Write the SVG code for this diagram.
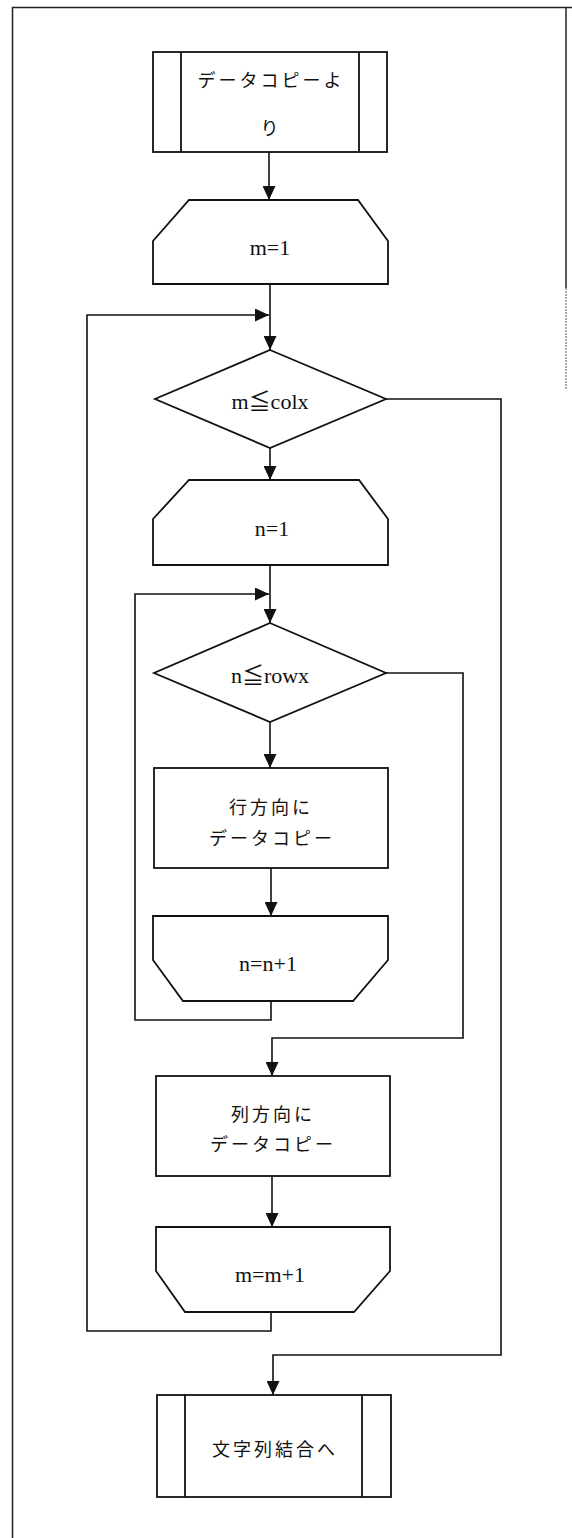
<svg xmlns="http://www.w3.org/2000/svg" width="572" height="1538" viewBox="0 0 572 1538">
  <defs>
    <marker id="arrow" markerUnits="userSpaceOnUse" markerWidth="14" markerHeight="13" refX="14" refY="6.5" orient="auto">
      <path d="M0,0 L14,6.5 L0,13 z" fill="#111"/>
    </marker>
    <style>
      .shape { fill: #fff; stroke: #111; stroke-width: 1.8; }
      .line { fill: none; stroke: #111; stroke-width: 1.8; }
      .wire { fill: none; stroke: #111; stroke-width: 1.6; marker-end: url(#arrow); }
      .frame { fill: none; stroke: #222; stroke-width: 1.5; }
      .jp { font-family: "Noto Sans CJK JP", "Noto Sans", sans-serif; font-size: 18px; letter-spacing: 3px; fill: #111; text-anchor: middle; dominant-baseline: central; }
      .lat { font-family: "Liberation Serif", "Noto Sans CJK JP", serif; font-size: 22px; fill: #111; text-anchor: middle; dominant-baseline: central; }
    </style>
  </defs>

  <rect width="572" height="1538" fill="#fff"/>

  <!-- page border -->
  <g id="frame">
    <path class="frame" d="M12.5,1538 V7.5 H572"/>
    <path class="frame" d="M566,7.5 V288"/>
    <path d="M566,288 V390" fill="none" stroke="#777" stroke-width="1.2" stroke-dasharray="2 1"/>
  </g>

  <!-- connectors -->
  <g id="connectors">
    <path class="wire" d="M269,152 V200"/>
    <path class="wire" d="M270,284 V350"/>
    <path class="wire" d="M271,1312 V1331 H87 V315 H269"/>
    <path class="wire" d="M270,448 V480"/>
    <path class="wire" d="M270,565 V623"/>
    <path class="wire" d="M271,1001 V1020 H135 V594 H269"/>
    <path class="wire" d="M270,722 V768"/>
    <path class="wire" d="M271,868 V916"/>
    <path class="wire" d="M386,673 H463 V1038 H272 V1076"/>
    <path class="wire" d="M272,1176 V1227"/>
    <path class="wire" d="M386,399 H501 V1355 H273 V1395"/>
  </g>

  <!-- start: predefined process -->
  <g id="start">
    <rect class="shape" x="153" y="52" width="234" height="100"/>
    <path class="line" d="M181,52 V152 M359,52 V152"/>
    <text class="jp" x="271" y="79">データコピーよ</text>
    <text class="jp" x="271" y="127">り</text>
  </g>

  <!-- outer loop start -->
  <g id="loop-m-start">
    <path class="shape" d="M189,200 H358 L388,241 V284 H153 V241 Z"/>
    <text class="lat" x="270" y="247">m=1</text>
  </g>

  <g id="cond-m">
    <path class="shape" d="M270,350 L386,399 L270,448 L155,399 Z"/>
    <text class="lat" x="270" y="401">m≦colx</text>
  </g>

  <!-- inner loop start -->
  <g id="loop-n-start">
    <path class="shape" d="M189,480 H359 L388,519 V565 H153 V519 Z"/>
    <text class="lat" x="272" y="528">n=1</text>
  </g>

  <g id="cond-n">
    <path class="shape" d="M270,623 L386,673 L270,722 L154,673 Z"/>
    <text class="lat" x="270" y="675">n≦rowx</text>
  </g>

  <g id="copy-row">
    <rect class="shape" x="154" y="768" width="234" height="100"/>
    <text class="jp" x="271" y="806">行方向に</text>
    <text class="jp" x="272" y="837">データコピー</text>
  </g>

  <!-- inner loop end -->
  <g id="loop-n-end">
    <path class="shape" d="M153,916 H388 V960 L353,1001 H183 L153,960 Z"/>
    <text class="lat" x="268" y="963">n=n+1</text>
  </g>

  <g id="copy-col">
    <rect class="shape" x="156" y="1076" width="234" height="100"/>
    <text class="jp" x="273" y="1113">列方向に</text>
    <text class="jp" x="273" y="1143">データコピー</text>
  </g>

  <!-- outer loop end -->
  <g id="loop-m-end">
    <path class="shape" d="M156,1227 H390 V1271 L354,1312 H185 L156,1271 Z"/>
    <text class="lat" x="270" y="1274">m=m+1</text>
  </g>

  <g id="end">
    <rect class="shape" x="157" y="1395" width="234" height="102"/>
    <path class="line" d="M185,1395 V1497 M362,1395 V1497"/>
    <text class="jp" x="275" y="1448">文字列結合へ</text>
  </g>
</svg>
